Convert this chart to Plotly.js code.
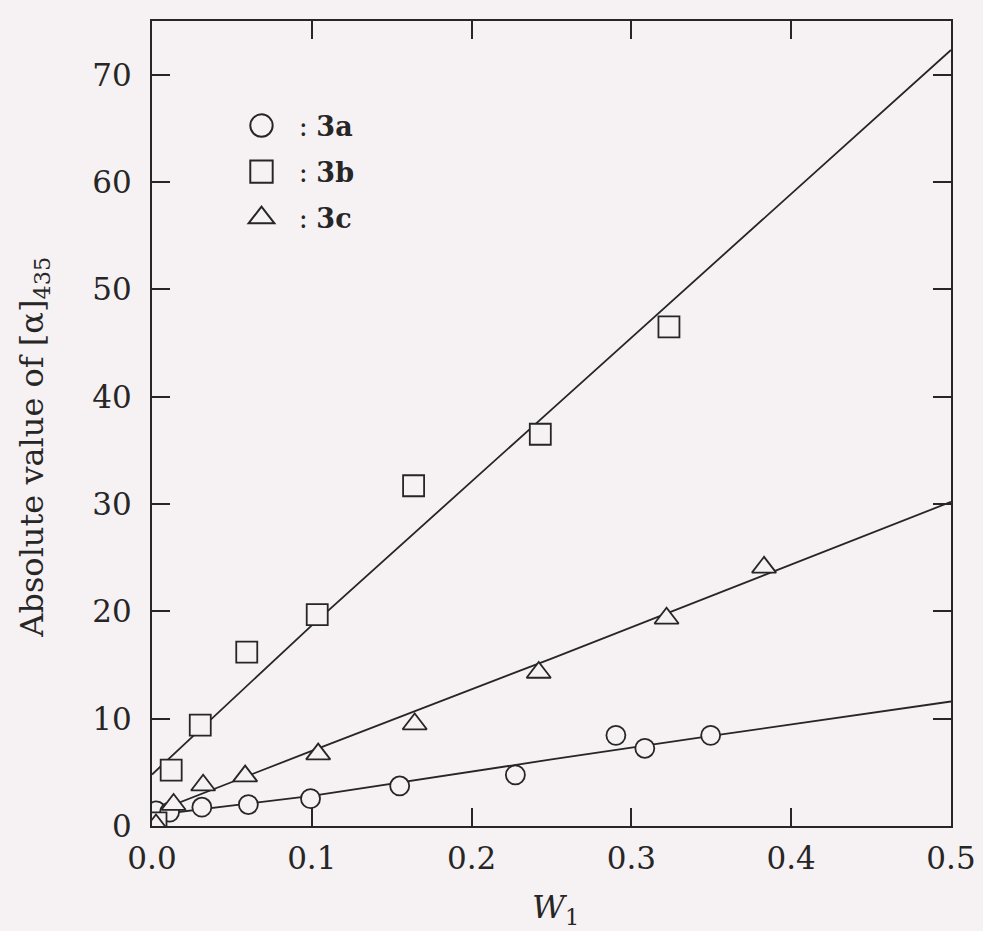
<!DOCTYPE html>
<html>
<head>
<meta charset="utf-8">
<script src="https://cdn.plot.ly/plotly-3.0.1.min.js"></script>
<style>
html,body{margin:0;padding:0;background:#f6f1f3;}
#chart{width:983px;height:931px;}
</style>
</head>
<body>
<div id="chart"></div>
<script>
// Data
var w1_3a = [0.0027, 0.011, 0.0312, 0.0603, 0.0992, 0.155, 0.2274, 0.2903, 0.3084, 0.3496];
var val_3a = [1.4, 1.3, 1.75, 2.0, 2.55, 3.73, 4.76, 8.45, 7.24, 8.45];

var w1_3b = [0.0025, 0.012, 0.0302, 0.0593, 0.1034, 0.1637, 0.243, 0.3235];
var val_3b = [0.3, 5.2, 9.4, 16.2, 19.7, 31.7, 36.5, 46.5];

var w1_3c = [0.0025, 0.0135, 0.032, 0.0583, 0.104, 0.1644, 0.242, 0.322, 0.383];
var val_3c = [0.1, 2.0, 3.8, 4.65, 6.7, 9.5, 14.3, 19.35, 24.1];

// Fitted lines
var fitX_3a = [0, 0.1, 0.25, 0.35, 0.5];
var fitY_3a = [1.0, 2.8, 6.2, 8.4, 11.6];
var fitX_3b = [0, 0.1, 0.25, 0.5];
var fitY_3b = [4.8, 18.7, 38.8, 72.3];
var fitX_3c = [0, 0.1, 0.25, 0.5];
var fitY_3c = [1.2, 7.0, 15.6, 30.2];

var seriesNames = ['&nbsp;&nbsp;: <b>3a</b>', '&nbsp;&nbsp;: <b>3b</b>', '&nbsp;&nbsp;: <b>3c</b>'];
var xTicks = [0, 0.1, 0.2, 0.3, 0.4, 0.5];
var yTicks = [0, 10, 20, 30, 40, 50, 60, 70];
var xTitle = '<i>W</i><sub>1</sub>';
var yTitle = 'Absolute value of [α]<sub>435</sub>';

var BG = '#f6f1f3';
var INK = '#262626';
var FONT = '"DejaVu Serif", serif';

function fitLine(x, y) {
  return {x: x, y: y, type: 'scatter', mode: 'lines', showlegend: false,
          hoverinfo: 'skip', line: {color: INK, width: 1.8}};
}
function pts(x, y, name, symbol, size, group) {
  return {x: x, y: y, type: 'scatter', mode: 'markers', name: name,
          legendgroup: group,
          marker: {symbol: symbol, size: size, color: BG,
                   line: {color: INK, width: 1.8}}};
}

var traces = [
  fitLine(fitX_3a, fitY_3a),
  fitLine(fitX_3b, fitY_3b),
  fitLine(fitX_3c, fitY_3c),
  pts(w1_3a, val_3a, seriesNames[0], 'circle', 19, 'a'),
  pts(w1_3b, val_3b, seriesNames[1], 'square', 21, 'b'),
  pts(w1_3c, val_3c, seriesNames[2], 'triangle-up', 21, 'c')
];

var axisCommon = {
  showline: true, linecolor: INK, linewidth: 2, mirror: 'allticks',
  ticks: 'inside', ticklen: 18, tickwidth: 2, tickcolor: INK,
  showgrid: false, zeroline: false,
  tickfont: {family: FONT, size: 31, color: INK}
};

var layout = {
  width: 983, height: 931,
  paper_bgcolor: BG, plot_bgcolor: BG,
  margin: {l: 152, r: 32, t: 21, b: 105},
  font: {family: FONT, color: INK},
  xaxis: Object.assign({}, axisCommon, {
    range: [0, 0.5], tickvals: xTicks, tickformat: '.1f',
    ticklabelstandoff: 4
  }),
  yaxis: Object.assign({}, axisCommon, {
    range: [0, 75], tickvals: yTicks,
    ticklabelstandoff: 12
  }),
  annotations: [{
    text: yTitle, textangle: -90, showarrow: false,
    xref: 'paper', yref: 'paper', x: 0, y: 0.47,
    xanchor: 'center', yanchor: 'middle', xshift: -118,
    font: {family: FONT, size: 32, color: INK}
  }, {
    text: xTitle, showarrow: false,
    xref: 'paper', yref: 'paper', x: 0.505, y: 0,
    xanchor: 'center', yanchor: 'top', yshift: -60,
    font: {family: FONT, size: 32, color: INK}
  }],
  legend: {
    x: 0.112, y: 0.9, xanchor: 'left', yanchor: 'top',
    bgcolor: 'rgba(0,0,0,0)', borderwidth: 0,
    font: {family: FONT, size: 27, color: INK},
    itemsizing: 'trace', tracegroupgap: 8
  },
  showlegend: true
};

Plotly.newPlot('chart', traces, layout, {displayModeBar: false, staticPlot: true}).then(function (gd) {
  // enlarge legend symbols to the size used in the reference
  var paths = gd.querySelectorAll('.legend .legendpoints path.scatterpts');
  paths.forEach(function (p) {
    var t = p.getAttribute('transform') || '';
    p.setAttribute('transform', t + ' scale(1.4)');
    p.style.strokeWidth = '1.4px';
  });
});
</script>
</body>
</html>
